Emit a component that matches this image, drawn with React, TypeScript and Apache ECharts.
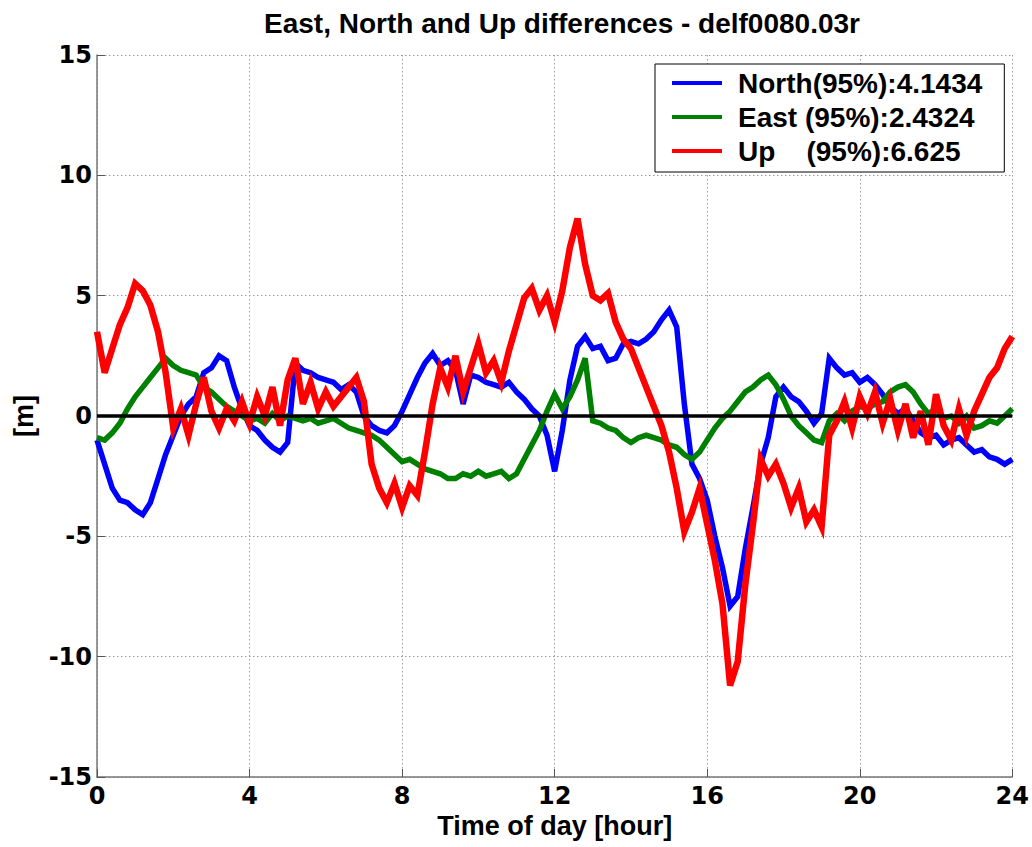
import React, { useEffect, useRef } from "react";
import * as echarts from "echarts";

// Sampling step of the series below, in hours (t = index * STEP, 0 … 24)
const STEP = 0.2;

// North differences [m]
const north = [
  -1.0, -2.0, -3.0, -3.5, -3.6, -3.9, -4.1, -3.6, -2.6, -1.6,
  -0.8, 0.0, 0.5, 0.8, 1.8, 2.0, 2.5, 2.3, 1.2, 0.3,
  -0.4, -0.6, -1.0, -1.3, -1.5, -1.1, 2.2, 1.9, 1.8, 1.6,
  1.5, 1.4, 1.1, 1.3, 1.0, 0.0, -0.4, -0.6, -0.7, -0.4,
  0.2, 0.9, 1.6, 2.2, 2.6, 2.1, 2.3, 1.9, 0.5, 1.7,
  1.6, 1.4, 1.3, 1.2, 1.4, 1.0, 0.7, 0.3, 0.0, -0.8,
  -2.3, -0.6, 1.5, 2.9, 3.3, 2.8, 2.9, 2.3, 2.4, 3.0,
  3.1, 3.0, 3.2, 3.5, 4.0, 4.4, 3.7, 0.5, -2.0, -2.6,
  -3.5, -5.0, -6.3, -7.9, -7.5, -5.5, -3.8, -2.0, -0.9, 0.8,
  1.2, 0.8, 0.6, 0.2, -0.3, 0.1, 2.4, 2.0, 1.7, 1.8,
  1.4, 1.6, 1.3, 0.9, 0.4, 0.1, 0.3, -0.2, -0.7, -0.9,
  -0.8, -1.2, -1.0, -0.9, -1.2, -1.5, -1.4, -1.7, -1.8, -2.0,
  -1.8,
];

// East differences [m]
const east = [
  -0.9, -1.0, -0.7, -0.3, 0.3, 0.8, 1.2, 1.6, 2.0, 2.4,
  2.1, 1.9, 1.8, 1.7, 1.2, 1.0, 0.7, 0.4, 0.2, 0.0,
  -0.2, -0.1, -0.3, 0.1, -0.2, 0.0, -0.1, -0.2, -0.1, -0.3,
  -0.2, -0.1, -0.3, -0.5, -0.6, -0.7, -0.8, -1.0, -1.3, -1.6,
  -1.9, -1.8, -2.0, -2.2, -2.3, -2.4, -2.6, -2.6, -2.4, -2.5,
  -2.3, -2.5, -2.4, -2.3, -2.6, -2.4, -1.8, -1.2, -0.6, 0.2,
  0.9, 0.3, 0.8, 1.5, 2.4, -0.2, -0.3, -0.5, -0.6, -0.9,
  -1.1, -0.9, -0.8, -0.9, -1.0, -1.2, -1.3, -1.6, -1.8, -1.5,
  -1.0, -0.5, -0.1, 0.2, 0.6, 1.0, 1.2, 1.5, 1.7, 1.3,
  0.7, 0.0, -0.4, -0.7, -1.0, -1.1, -0.2, 0.1, -0.2, 0.2,
  0.4, 0.3, 0.5, 0.6, 1.0, 1.2, 1.3, 1.0, 0.5, 0.1,
  0.3, -0.1, 0.0, -0.3, 0.0, -0.5, -0.4, -0.2, -0.3, 0.0,
  0.3,
];

// Up differences [m]
const up = [
  3.5, 1.8, 2.8, 3.8, 4.5, 5.5, 5.2, 4.6, 3.5, 1.8,
  -0.5, 0.3, -0.8, 0.5, 1.6, 0.2, -0.5, 0.3, -0.2, 0.6,
  -0.3, 0.8, 0.0, 1.2, -0.4, 1.5, 2.4, 0.5, 1.4, 0.3,
  1.0, 0.4, 0.8, 1.2, 1.6, 0.6, -2.0, -3.0, -3.6, -2.8,
  -3.8, -2.9, -3.3, -1.5, 0.5, 2.0, 1.2, 2.5, 1.0, 2.0,
  3.0, 1.8, 2.3, 1.4, 2.7, 3.8, 4.9, 5.3, 4.4, 5.0,
  3.9, 5.2, 7.0, 8.2, 6.3, 5.0, 4.8, 5.1, 3.9, 3.2,
  2.8, 2.0, 1.2, 0.4, -0.4, -1.5, -3.0, -4.8, -4.0, -3.0,
  -4.5, -6.0, -7.8, -11.2, -10.2, -7.0, -4.5, -1.8, -2.5, -2.0,
  -2.8, -3.8, -3.0, -4.4, -3.9, -4.6, -0.8, -0.2, 0.6, -0.5,
  0.8, 0.1, 1.0, -0.3, 0.7, -0.6, 0.5, -0.9, 0.2, -1.2,
  0.9, -0.4, -1.0, 0.3, -0.8, 0.2, 0.9, 1.6, 2.0, 2.8,
  3.3,
];

const seriesNames = [
  "North(95%):4.1434",
  "East (95%):2.4324",
  "Up    (95%):6.625",
];
const seriesColors = ["#0000ff", "#008000", "#ff0000"];
const seriesWidths = [5.5, 5.5, 6.5];

const titleText = "East, North and Up differences - delf0080.03r";
const xName = "Time of day [hour]";
const yName = "[m]";

const pairs = (vals: number[]) =>
  vals.map((v, i) => [Math.round(i * STEP * 100) / 100, v]);

export default function App() {
  const ref = useRef<HTMLDivElement>(null);

  useEffect(() => {
    if (!ref.current) return;
    const chart = echarts.init(ref.current, null, { renderer: "svg" });
    const tickFont = {
      fontFamily: "DejaVu Sans",
      fontWeight: "bold" as const,
      fontSize: 24,
      color: "#000",
    };
    const gridLine = {
      show: true,
      lineStyle: { color: "#9a9a9a", type: [1.5, 2.5], width: 1 },
    };
    chart.setOption({
      animation: false,
      backgroundColor: "#ffffff",
      title: {
        text: titleText,
        left: 557,
        top: 4,
        textAlign: "center",
        textStyle: {
          fontFamily: "Liberation Sans",
          fontWeight: "bold",
          fontSize: 28,
          color: "#000",
        },
      },
      grid: { left: 97, right: 15, top: 55, bottom: 70, containLabel: false },
      legend: {
        data: seriesNames,
        orient: "vertical",
        left: 655,
        top: 64,
        padding: [5, 22, 7, 17],
        itemGap: 6,
        itemWidth: 50,
        itemHeight: 4,
        icon: "rect",
        backgroundColor: "#ffffff",
        borderColor: "#000",
        borderWidth: 1,
        borderRadius: 0,
        textStyle: {
          fontFamily: "Liberation Sans",
          fontWeight: "bold",
          fontSize: 28,
          lineHeight: 26,
          color: "#000",
          padding: [0, 0, 0, 11],
        },
      },
      xAxis: {
        type: "value",
        min: 0,
        max: 24,
        interval: 4,
        name: xName,
        nameLocation: "middle",
        nameGap: 34,
        nameTextStyle: {
          fontFamily: "Liberation Sans",
          fontWeight: "bold",
          fontSize: 27,
          color: "#000",
        },
        axisLine: { show: true, onZero: false, lineStyle: { color: "#777", width: 1.5 } },
        axisTick: { show: true, inside: true, length: 8, lineStyle: { color: "#555" } },
        axisLabel: { ...tickFont, margin: 7 },
        splitLine: gridLine,
      },
      yAxis: {
        type: "value",
        min: -15,
        max: 15,
        interval: 5,
        name: yName,
        nameLocation: "middle",
        nameGap: 46,
        nameTextStyle: {
          fontFamily: "Liberation Sans",
          fontWeight: "bold",
          fontSize: 27,
          color: "#000",
        },
        axisLine: { show: true, onZero: false, lineStyle: { color: "#777", width: 1.5 } },
        axisTick: { show: true, inside: true, length: 8, lineStyle: { color: "#555" } },
        axisLabel: { ...tickFont, margin: 5 },
        splitLine: gridLine,
      },
      series: [
        ...[north, east, up].map((vals, k) => ({
          name: seriesNames[k],
          type: "line",
          data: pairs(vals),
          showSymbol: false,
          symbol: "none",
          color: seriesColors[k],
          lineStyle: { color: seriesColors[k], width: seriesWidths[k], join: "miter" },
          silent: true,
        })),
        {
          name: "zero",
          type: "line",
          data: [
            [0, 0],
            [24, 0],
          ],
          showSymbol: false,
          symbol: "none",
          color: "#000",
          lineStyle: { color: "#000", width: 3.5 },
          silent: true,
          z: 3,
        },
      ],
    });
    return () => chart.dispose();
  }, []);

  return (
    <div
      ref={ref}
      style={{ position: "absolute", left: 0, top: 0, width: 1032, height: 847 }}
    />
  );
}
